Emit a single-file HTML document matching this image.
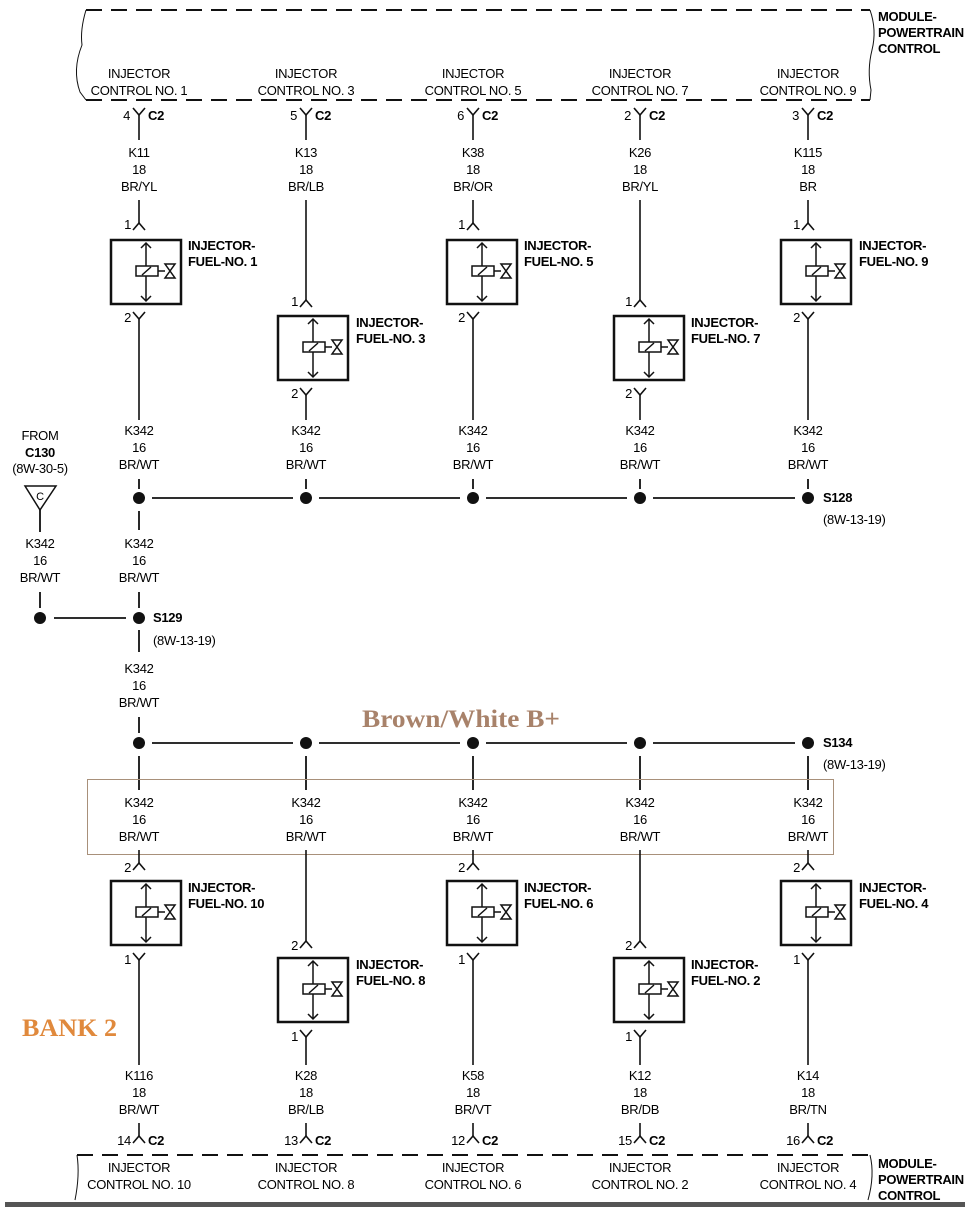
<!DOCTYPE html>
<html><head><meta charset="utf-8"><style>
html,body{margin:0;padding:0;background:#fff;}
svg{display:block;}
text{font-family:"Liberation Sans",Arial,sans-serif;font-size:13px;fill:#000;letter-spacing:-0.3px;}
.c{text-anchor:middle;}
.b{font-weight:bold;}
.r{text-anchor:end;}
</style></head><body>
<svg width="976" height="1220" viewBox="0 0 976 1220" xmlns="http://www.w3.org/2000/svg">
<defs>
<g id="inj" stroke="#111" fill="none">
<rect x="-35" y="0" width="70" height="64" stroke-width="2.5"/>
<line x1="0" y1="3" x2="0" y2="61" stroke-width="1.5"/>
<polyline points="-5,8 0,3 5,8" stroke-width="1.5"/>
<polyline points="-5,56 0,61 5,56" stroke-width="1.5"/>
<rect x="-10" y="26" width="22" height="10" fill="#fff" stroke-width="1.5"/>
<line x1="-4" y1="35" x2="5" y2="27" stroke-width="1.5"/>
<line x1="12" y1="31" x2="19" y2="31" stroke-width="1.5"/>
<path d="M19 24 L29 24 L19 38 L29 38 Z" stroke-width="1.5"/>
</g>
<polyline id="up" points="-6,7 0,0 6,7" stroke="#111" fill="none" stroke-width="1.6"/>
<polyline id="dn" points="-6,0 0,7 6,0" stroke="#111" fill="none" stroke-width="1.6"/>
</defs>

<g stroke="#111" stroke-width="2" fill="none">
<line x1="86" y1="10" x2="870" y2="10" stroke-dasharray="16,9"/>
<line x1="86" y1="100" x2="870" y2="100" stroke-dasharray="16,9"/>
<path d="M86 10 Q80 30 82 45 Q72 70 80 92 L86 100" stroke-width="1"/>
<path d="M870 10 Q877 30 872 50 Q867 70 871 90 L870 100" stroke-width="1"/>
<line x1="77" y1="1155" x2="870" y2="1155" stroke-dasharray="16,9"/>
<path d="M77 1155 Q80 1175 75 1200" stroke-width="1"/>
<path d="M870 1155 Q875 1175 868 1200" stroke-width="1"/>
</g>
<text class="b" x="878" y="21">MODULE-</text>
<text class="b" x="878" y="37">POWERTRAIN</text>
<text class="b" x="878" y="53">CONTROL</text>
<text class="b" x="878" y="1168">MODULE-</text>
<text class="b" x="878" y="1184">POWERTRAIN</text>
<text class="b" x="878" y="1200">CONTROL</text>
<rect x="5" y="1202" width="960" height="5" fill="#555"/>

<text class="c" x="139" y="78">INJECTOR</text><text class="c" x="139" y="95">CONTROL NO. 1</text>
<text class="c" x="306" y="78">INJECTOR</text><text class="c" x="306" y="95">CONTROL NO. 3</text>
<text class="c" x="473" y="78">INJECTOR</text><text class="c" x="473" y="95">CONTROL NO. 5</text>
<text class="c" x="640" y="78">INJECTOR</text><text class="c" x="640" y="95">CONTROL NO. 7</text>
<text class="c" x="808" y="78">INJECTOR</text><text class="c" x="808" y="95">CONTROL NO. 9</text>

<g stroke="#111" stroke-width="1.6">
<line x1="139" y1="115" x2="139" y2="140"/><line x1="306" y1="115" x2="306" y2="140"/><line x1="473" y1="115" x2="473" y2="140"/><line x1="640" y1="115" x2="640" y2="140"/><line x1="808" y1="115" x2="808" y2="140"/>
</g>
<use href="#dn" x="139" y="108"/><use href="#dn" x="306" y="108"/><use href="#dn" x="473" y="108"/><use href="#dn" x="640" y="108"/><use href="#dn" x="808" y="108"/>
<text class="r" x="130" y="120">4</text><text class="b" x="148" y="120">C2</text>
<text class="r" x="297" y="120">5</text><text class="b" x="315" y="120">C2</text>
<text class="r" x="464" y="120">6</text><text class="b" x="482" y="120">C2</text>
<text class="r" x="631" y="120">2</text><text class="b" x="649" y="120">C2</text>
<text class="r" x="799" y="120">3</text><text class="b" x="817" y="120">C2</text>

<text class="c" x="139" y="157">K11</text><text class="c" x="139" y="174">18</text><text class="c" x="139" y="191">BR/YL</text>
<text class="c" x="306" y="157">K13</text><text class="c" x="306" y="174">18</text><text class="c" x="306" y="191">BR/LB</text>
<text class="c" x="473" y="157">K38</text><text class="c" x="473" y="174">18</text><text class="c" x="473" y="191">BR/OR</text>
<text class="c" x="640" y="157">K26</text><text class="c" x="640" y="174">18</text><text class="c" x="640" y="191">BR/YL</text>
<text class="c" x="808" y="157">K115</text><text class="c" x="808" y="174">18</text><text class="c" x="808" y="191">BR</text>

<g stroke="#111" stroke-width="1.6">
<line x1="139" y1="200" x2="139" y2="224"/><line x1="473" y1="200" x2="473" y2="224"/><line x1="808" y1="200" x2="808" y2="224"/>
<line x1="139" y1="319" x2="139" y2="420"/><line x1="473" y1="319" x2="473" y2="420"/><line x1="808" y1="319" x2="808" y2="420"/>
<line x1="306" y1="200" x2="306" y2="301"/><line x1="640" y1="200" x2="640" y2="301"/>
<line x1="306" y1="395" x2="306" y2="420"/><line x1="640" y1="395" x2="640" y2="420"/>
</g>
<use href="#up" x="139" y="223"/><use href="#up" x="473" y="223"/><use href="#up" x="808" y="223"/>
<use href="#dn" x="139" y="312"/><use href="#dn" x="473" y="312"/><use href="#dn" x="808" y="312"/>
<use href="#up" x="306" y="300"/><use href="#up" x="640" y="300"/>
<use href="#dn" x="306" y="388"/><use href="#dn" x="640" y="388"/>
<text class="r" x="131" y="229">1</text><text class="r" x="465" y="229">1</text><text class="r" x="800" y="229">1</text>
<text class="r" x="131" y="322">2</text><text class="r" x="465" y="322">2</text><text class="r" x="800" y="322">2</text>
<text class="r" x="298" y="306">1</text><text class="r" x="632" y="306">1</text>
<text class="r" x="298" y="398">2</text><text class="r" x="632" y="398">2</text>

<use href="#inj" x="146" y="240"/><use href="#inj" x="482" y="240"/><use href="#inj" x="816" y="240"/>
<use href="#inj" x="313" y="316"/><use href="#inj" x="649" y="316"/>
<text class="b" x="188" y="250">INJECTOR-</text><text class="b" x="188" y="266">FUEL-NO. 1</text>
<text class="b" x="524" y="250">INJECTOR-</text><text class="b" x="524" y="266">FUEL-NO. 5</text>
<text class="b" x="859" y="250">INJECTOR-</text><text class="b" x="859" y="266">FUEL-NO. 9</text>
<text class="b" x="356" y="327">INJECTOR-</text><text class="b" x="356" y="343">FUEL-NO. 3</text>
<text class="b" x="691" y="327">INJECTOR-</text><text class="b" x="691" y="343">FUEL-NO. 7</text>

<text class="c" x="139" y="435">K342</text><text class="c" x="139" y="452">16</text><text class="c" x="139" y="469">BR/WT</text>
<text class="c" x="306" y="435">K342</text><text class="c" x="306" y="452">16</text><text class="c" x="306" y="469">BR/WT</text>
<text class="c" x="473" y="435">K342</text><text class="c" x="473" y="452">16</text><text class="c" x="473" y="469">BR/WT</text>
<text class="c" x="640" y="435">K342</text><text class="c" x="640" y="452">16</text><text class="c" x="640" y="469">BR/WT</text>
<text class="c" x="808" y="435">K342</text><text class="c" x="808" y="452">16</text><text class="c" x="808" y="469">BR/WT</text>
<g stroke="#111" stroke-width="1.8">
<line x1="139" y1="479" x2="139" y2="489"/><line x1="306" y1="479" x2="306" y2="489"/><line x1="473" y1="479" x2="473" y2="489"/><line x1="640" y1="479" x2="640" y2="489"/><line x1="808" y1="479" x2="808" y2="489"/>
<line x1="152" y1="498" x2="293" y2="498"/><line x1="319" y1="498" x2="460" y2="498"/><line x1="486" y1="498" x2="627" y2="498"/><line x1="653" y1="498" x2="795" y2="498"/>
<line x1="139" y1="511" x2="139" y2="530"/>
<line x1="139" y1="592" x2="139" y2="608"/>
<line x1="40" y1="510" x2="40" y2="532"/>
<line x1="40" y1="592" x2="40" y2="608"/>
<line x1="54" y1="618" x2="126" y2="618"/>
<line x1="139" y1="630" x2="139" y2="652"/>
<line x1="139" y1="717" x2="139" y2="733"/>
<line x1="152" y1="743" x2="293" y2="743"/><line x1="319" y1="743" x2="460" y2="743"/><line x1="486" y1="743" x2="627" y2="743"/><line x1="653" y1="743" x2="795" y2="743"/>
<line x1="139" y1="756" x2="139" y2="790"/><line x1="306" y1="756" x2="306" y2="790"/><line x1="473" y1="756" x2="473" y2="790"/><line x1="640" y1="756" x2="640" y2="790"/><line x1="808" y1="756" x2="808" y2="790"/>
</g>
<g fill="#111">
<circle cx="139" cy="498" r="6"/><circle cx="306" cy="498" r="6"/><circle cx="473" cy="498" r="6"/><circle cx="640" cy="498" r="6"/><circle cx="808" cy="498" r="6"/>
<circle cx="40" cy="618" r="6"/><circle cx="139" cy="618" r="6"/>
<circle cx="139" cy="743" r="6"/><circle cx="306" cy="743" r="6"/><circle cx="473" cy="743" r="6"/><circle cx="640" cy="743" r="6"/><circle cx="808" cy="743" r="6"/>
</g>
<text class="b" x="823" y="502">S128</text><text x="823" y="524">(8W-13-19)</text>
<text class="c" x="40" y="440">FROM</text><text class="c b" x="40" y="457">C130</text><text class="c" x="40" y="473">(8W-30-5)</text>
<polygon points="25,486 56,486 40,510" fill="none" stroke="#111" stroke-width="1.5"/>
<text class="c" x="40" y="500" style="font-size:11px">C</text>
<text class="c" x="40" y="548">K342</text><text class="c" x="40" y="565">16</text><text class="c" x="40" y="582">BR/WT</text>
<text class="c" x="139" y="548">K342</text><text class="c" x="139" y="565">16</text><text class="c" x="139" y="582">BR/WT</text>
<text class="b" x="153" y="622">S129</text><text x="153" y="645">(8W-13-19)</text>
<text class="c" x="139" y="673">K342</text><text class="c" x="139" y="690">16</text><text class="c" x="139" y="707">BR/WT</text>
<text x="362" y="727" textLength="198" lengthAdjust="spacingAndGlyphs" style="font-family:'Liberation Serif',serif;font-size:25px;font-weight:bold;fill:#a8826a;letter-spacing:0">Brown/White B+</text>
<text class="b" x="823" y="747">S134</text><text x="823" y="769">(8W-13-19)</text>

<rect x="87.5" y="779.5" width="746" height="75" fill="none" stroke="#a8907a" stroke-width="1"/>
<text class="c" x="139" y="807">K342</text><text class="c" x="139" y="824">16</text><text class="c" x="139" y="841">BR/WT</text>
<text class="c" x="306" y="807">K342</text><text class="c" x="306" y="824">16</text><text class="c" x="306" y="841">BR/WT</text>
<text class="c" x="473" y="807">K342</text><text class="c" x="473" y="824">16</text><text class="c" x="473" y="841">BR/WT</text>
<text class="c" x="640" y="807">K342</text><text class="c" x="640" y="824">16</text><text class="c" x="640" y="841">BR/WT</text>
<text class="c" x="808" y="807">K342</text><text class="c" x="808" y="824">16</text><text class="c" x="808" y="841">BR/WT</text>

<g stroke="#111" stroke-width="1.6">
<line x1="139" y1="850" x2="139" y2="864"/><line x1="473" y1="850" x2="473" y2="864"/><line x1="808" y1="850" x2="808" y2="864"/>
<line x1="139" y1="960" x2="139" y2="1065"/><line x1="473" y1="960" x2="473" y2="1065"/><line x1="808" y1="960" x2="808" y2="1065"/>
<line x1="306" y1="850" x2="306" y2="942"/><line x1="640" y1="850" x2="640" y2="942"/>
<line x1="306" y1="1037" x2="306" y2="1065"/><line x1="640" y1="1037" x2="640" y2="1065"/>
<line x1="139" y1="1123" x2="139" y2="1137"/><line x1="306" y1="1123" x2="306" y2="1137"/><line x1="473" y1="1123" x2="473" y2="1137"/><line x1="640" y1="1123" x2="640" y2="1137"/><line x1="808" y1="1123" x2="808" y2="1137"/>
</g>
<use href="#up" x="139" y="863"/><use href="#up" x="473" y="863"/><use href="#up" x="808" y="863"/>
<use href="#dn" x="139" y="953"/><use href="#dn" x="473" y="953"/><use href="#dn" x="808" y="953"/>
<use href="#up" x="306" y="941"/><use href="#up" x="640" y="941"/>
<use href="#dn" x="306" y="1030"/><use href="#dn" x="640" y="1030"/>
<use href="#up" x="139" y="1136"/><use href="#up" x="306" y="1136"/><use href="#up" x="473" y="1136"/><use href="#up" x="640" y="1136"/><use href="#up" x="808" y="1136"/>
<text class="r" x="131" y="872">2</text><text class="r" x="465" y="872">2</text><text class="r" x="800" y="872">2</text>
<text class="r" x="131" y="964">1</text><text class="r" x="465" y="964">1</text><text class="r" x="800" y="964">1</text>
<text class="r" x="298" y="950">2</text><text class="r" x="632" y="950">2</text>
<text class="r" x="298" y="1041">1</text><text class="r" x="632" y="1041">1</text>

<use href="#inj" x="146" y="881"/><use href="#inj" x="482" y="881"/><use href="#inj" x="816" y="881"/>
<use href="#inj" x="313" y="958"/><use href="#inj" x="649" y="958"/>
<text class="b" x="188" y="892">INJECTOR-</text><text class="b" x="188" y="908">FUEL-NO. 10</text>
<text class="b" x="524" y="892">INJECTOR-</text><text class="b" x="524" y="908">FUEL-NO. 6</text>
<text class="b" x="859" y="892">INJECTOR-</text><text class="b" x="859" y="908">FUEL-NO. 4</text>
<text class="b" x="356" y="969">INJECTOR-</text><text class="b" x="356" y="985">FUEL-NO. 8</text>
<text class="b" x="691" y="969">INJECTOR-</text><text class="b" x="691" y="985">FUEL-NO. 2</text>

<text x="22" y="1036" textLength="95" lengthAdjust="spacingAndGlyphs" style="font-family:'Liberation Serif',serif;font-size:25px;font-weight:bold;fill:#e0893c;letter-spacing:0">BANK 2</text>

<text class="c" x="139" y="1080">K116</text><text class="c" x="139" y="1097">18</text><text class="c" x="139" y="1114">BR/WT</text>
<text class="c" x="306" y="1080">K28</text><text class="c" x="306" y="1097">18</text><text class="c" x="306" y="1114">BR/LB</text>
<text class="c" x="473" y="1080">K58</text><text class="c" x="473" y="1097">18</text><text class="c" x="473" y="1114">BR/VT</text>
<text class="c" x="640" y="1080">K12</text><text class="c" x="640" y="1097">18</text><text class="c" x="640" y="1114">BR/DB</text>
<text class="c" x="808" y="1080">K14</text><text class="c" x="808" y="1097">18</text><text class="c" x="808" y="1114">BR/TN</text>

<text class="r" x="131" y="1145">14</text><text class="b" x="148" y="1145">C2</text>
<text class="r" x="298" y="1145">13</text><text class="b" x="315" y="1145">C2</text>
<text class="r" x="465" y="1145">12</text><text class="b" x="482" y="1145">C2</text>
<text class="r" x="632" y="1145">15</text><text class="b" x="649" y="1145">C2</text>
<text class="r" x="800" y="1145">16</text><text class="b" x="817" y="1145">C2</text>

<text class="c" x="139" y="1172">INJECTOR</text><text class="c" x="139" y="1189">CONTROL NO. 10</text>
<text class="c" x="306" y="1172">INJECTOR</text><text class="c" x="306" y="1189">CONTROL NO. 8</text>
<text class="c" x="473" y="1172">INJECTOR</text><text class="c" x="473" y="1189">CONTROL NO. 6</text>
<text class="c" x="640" y="1172">INJECTOR</text><text class="c" x="640" y="1189">CONTROL NO. 2</text>
<text class="c" x="808" y="1172">INJECTOR</text><text class="c" x="808" y="1189">CONTROL NO. 4</text>
</svg>
</body></html>
